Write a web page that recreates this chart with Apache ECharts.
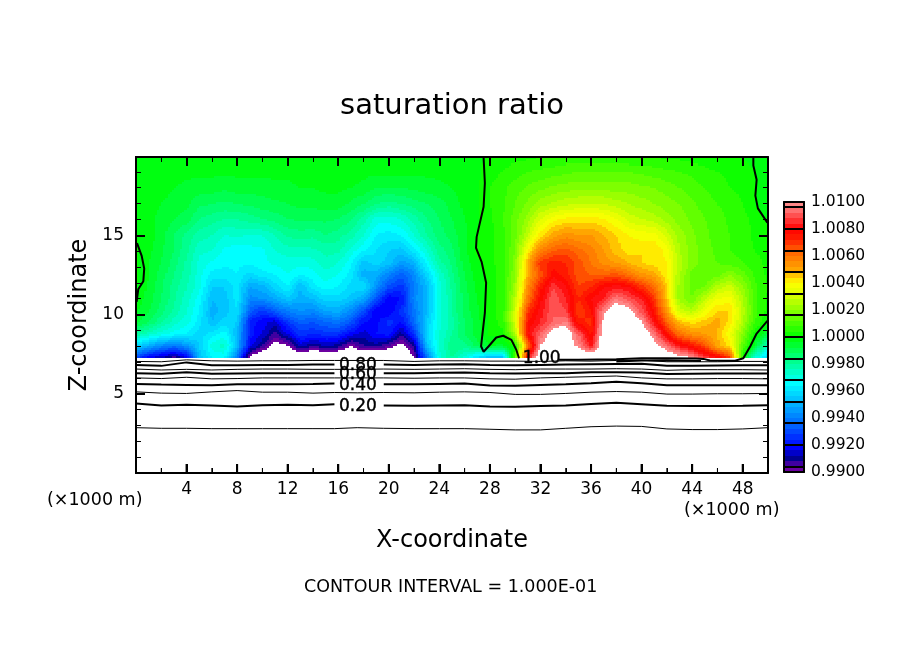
<!DOCTYPE html>
<html><head><meta charset="utf-8"><style>html,body{margin:0;padding:0;background:#fff}#c{width:904px;height:654px}</style>
<script src="https://cdn.jsdelivr.net/npm/echarts@6/dist/echarts.min.js"></script></head><body><div id="c"></div>
<script>
// Values. Field values are (saturation ratio - 1) x 10000, one array per z level, x = 0..50 km.
const zLevels = [7.25,8,8.75,9.5,10.25,11,11.75,12.5,13.25,14,15,16,17,18,19,19.94];
const z725 = [-70,-85,-88,-96,-85,-48,-36,-36,-60,-104, -112,-114,-114,-114,-114,-114,-114,-114,-114,-114, -114,-114,-100,-64,-30,-20,-30,-42,-50,-48, 12,82,110,115,115,115,115,115,115,115, 115,115,110,105,101,88,82,70,2,-30,-44];
const z800 = [-42,-50,-58,-62,-56,-44,-30,-26,-48,-82, -92,-104,-101,-86,-92,-88,-90,-100,-92,-90, -96,-104,-92,-46,-28,-16,-18,-10,-4,-5, 2,60,100,110,106,98,82,110,116,116, 112,104,94,82,76,66,50,42,12,-6,-26];
const z875 = [-20,-26,-30,-34,-36,-42,-38,-34,-48,-78, -84,-94,-84,-74,-76,-74,-74,-82,-86,-80, -78,-90,-74,-42,-28,-20,-12,-6,1,2, 25,80,92,106,108,92,74,108,114,114, 108,96,76,60,54,52,48,36,18,1,-8];
const z950 = [-6,-12,-19,-26,-30,-38,-48,-42,-44,-78, -82,-86,-72,-66,-68,-64,-62,-68,-80,-82, -74,-80,-64,-44,-30,-22,-12,-6,1,6, 30,76,84,92,97,74,70,104,112,110, 100,82,62,46,42,46,50,42,24,8,-1];
const z1025 = [-3,-8,-14,-21,-28,-36,-50,-46,-40,-66, -74,-66,-60,-56,-58,-52,-50,-58,-70,-84, -84,-74,-62,-48,-30,-20,-10,-5,2,6, 30,70,82,92,88,68,76,98,108,104, 90,76,52,30,26,36,44,44,26,10,2];
const z1100 = [-1,-6,-12,-19,-26,-34,-48,-46,-38,-58, -56,-52,-46,-50,-48,-42,-42,-46,-52,-68, -84,-80,-58,-48,-30,-20,-10,-4,2,6, 26,60,78,92,84,72,80,84,96,90, 84,70,46,22,16,28,36,38,24,9,3];
const z1175 = [0,-5,-11,-18,-24,-30,-44,-44,-38,-52, -50,-42,-36,-48,-38,-34,-36,-42,-40,-56, -70,-74,-60,-48,-30,-19,-9,-3,2,6, 22,56,74,88,80,68,72,80,82,80, 70,62,44,22,14,16,26,30,20,9,4];
const z1250 = [1,-4,-10,-16,-22,-30,-38,-38,-36,-42, -38,-36,-32,-36,-34,-30,-32,-38,-50,-50, -60,-66,-58,-42,-28,-17,-8,-2,2,6, 20,50,66,78,74,66,64,64,66,60, 54,50,40,24,14,12,14,20,14,7,3];
const z1325 = [1,-4,-8,-14,-21,-29,-33,-35,-35,-35, -33,-31,-30,-30,-30,-25,-28,-35,-46,-42, -46,-54,-50,-34,-22,-15,-6,-1,2,7, 18,50,70,74,72,66,60,54,52,48, 44,42,40,26,18,14,12,10,8,5,3];
const z1400 = [1,-3,-7,-12,-19,-27,-28,-33,-35,-34, -33,-28,-26,-26,-25,-23,-23,-30,-36,-40, -44,-46,-38,-28,-18,-13,-5,1,2,7, 16,40,58,64,66,62,58,52,46,42, 44,44,38,24,18,14,11,8,6,4,3];
const z1500 = [0,-2,-6,-12,-17,-22,-24,-28,-27,-28, -28,-24,-19,-18,-19,-16,-18,-22,-28,-36, -38,-36,-28,-20,-14,-10,-5,0,2,7, 14,28,42,50,54,52,52,48,44,40, 38,38,30,22,17,13,10,8,6,3,2];
const z1600 = [-1,-3,-5,-8,-10,-16,-18,-20,-20,-18, -16,-14,-12,-11,-11,-11,-12,-15,-22,-30, -30,-28,-22,-16,-12,-8,-4,-1,3,8, 14,22,32,38,41,42,42,40,36,30, 28,26,22,18,15,12,10,7,5,3,-1];
const z1700 = [-1,-3,-4,-5,-7,-11,-12,-13,-12,-11, -10,-9,-8,-7,-7,-6,-6,-9,-12,-16, -18,-16,-14,-12,-10,-6,-3,-1,4,7, 12,17,22,25,27,28,28,28,26,24, 22,20,18,16,13,10,8,6,4,0,-4];
const z1800 = [-1,-2,-3,-4,-5,-6,-6,-7,-6,-6, -6,-5,-5,-4,-4,-3,-3,-4,-5,-8, -8,-8,-7,-6,-5,-4,-2,-1,4,7, 10,13,15,17,18,19,19,19,18,18, 17,16,14,12,10,8,6,4,3,0,-3];
const z1900 = [-1,-1,-2,-2,-3,-3,-3,-3,-3,-3, -3,-3,-3,-2,-2,-2,-2,-2,-3,-3, -3,-3,-3,-3,-3,-2,-1,-1,2,4, 6,8,9,10,11,12,12,12,12,12, 11,10,9,8,7,5,4,3,1,0,-3];
const z1994 = [-1,-1,-1,-1,-1,-1,-1,-1,-1,-1, -1,-1,-1,-1,-1,-1,-1,-1,-1,-1, -1,-1,-1,-1,-1,-1,-1,-1,1,2, 3,3,4,4,5,5,5,5,5,4, 4,4,3,3,2,2,1,1,0,-1,-3];
const fieldRows = [z725,z800,z875,z950,z1025,z1100,z1175,z1250,z1325,z1400,z1500,z1600,z1700,z1800,z1900,z1994];

// Near-surface contour lines, z at each x of contourX (null = gap for the label)
const contourX = [0,2,4,6,8,10,12,14,15.7,17.5,19.6,22,24,26,28,30,32,34,36,38,40,42,44,46,48,50];
const c010 = [2.86,2.82,2.82,2.8,2.8,2.8,2.8,2.8,2.8,2.86,2.82,2.8,2.8,2.8,2.76,2.72,2.72,2.82,2.92,2.96,2.94,2.78,2.74,2.74,2.78,2.86];
const c020 = [4.38,4.26,4.3,4.26,4.2,4.28,4.3,4.28,4.34,null,4.26,4.24,4.26,4.28,4.2,4.18,4.22,4.26,4.36,4.44,4.34,4.24,4.22,4.22,4.24,4.28];
const c030 = [5.12,5.04,5.02,5.12,5.2,5.1,5.1,5.04,5.08,5.06,5.08,5.06,5.1,5.12,5.08,4.96,4.96,5.02,5.1,5.14,5.1,4.98,4.98,5.0,5.0,5.02];
const c040 = [5.62,5.58,5.56,5.54,5.6,5.6,5.6,5.62,5.64,null,5.6,5.6,5.62,5.64,5.52,5.5,5.56,5.6,5.66,5.76,5.66,5.54,5.54,5.54,5.54,5.54];
const c050 = [6.0,5.96,6.04,5.94,5.96,6.0,6.0,6.0,6.0,6.0,6.0,5.98,6.0,6.0,5.94,5.92,6.0,6.04,6.08,6.12,6.0,5.94,5.94,5.96,5.96,5.94];
const c060 = [6.3,6.26,6.36,6.26,6.28,6.3,6.3,6.3,6.3,null,6.3,6.3,6.32,6.34,6.3,6.28,6.3,6.3,6.36,6.36,6.34,6.24,6.26,6.28,6.28,6.28];
const c070 = [6.56,6.5,6.54,6.5,6.54,6.56,6.56,6.54,6.54,6.54,6.56,6.54,6.56,6.58,6.54,6.52,6.56,6.56,6.56,6.58,6.56,6.48,6.52,6.52,6.52,6.5];
const c080 = [6.82,6.76,6.98,6.8,6.8,6.82,6.82,6.84,6.84,null,6.84,6.82,6.84,6.86,6.82,6.8,6.82,6.84,6.86,6.88,6.9,6.76,6.76,6.78,6.8,6.8];
const c090 = [7.04,7.02,7.14,7.08,7.06,7.08,7.08,7.1,7.1,7.1,7.1,7.04,7.08,7.08,7.06,7.06,7.04,7.08,7.06,7.1,7.12,7.02,7.02,7.02,7.04,7.04];
// 1.00 contour pieces as [x km, z km]
const c100Left = [[0.08,14.5],[0.45,13.7],[0.65,12.9],[0.58,12.1],[0.18,11.6],[0.05,10.8]];
const c100Mid = [[27.5,19.9],[27.6,18.3],[27.5,16.8],[26.95,14.9],[26.9,14.2],[27.35,13.3],[27.7,12.0],[27.6,10.1],[27.3,8.0],[27.5,7.65],[27.9,8.0],[28.5,8.55],[29.05,8.66],[29.7,8.4],[30.1,7.75],[30.3,7.24]];
const c100TopRight = [[48.84,19.9],[48.84,19.4],[49.1,18.5],[49.0,17.5],[49.2,16.7],[49.95,15.8]];
const c100BottomRight = [[49.95,9.6],[49.1,8.8],[48.6,8.0],[48.05,7.24],[47.4,7.08],[45.4,7.1],[44.9,7.2],[44.3,7.22],[42,7.24],[40,7.24],[38,7.18],[35,7.14],[33.4,7.14]];
const c100Lower = [[38,7.04],[40,7.1],[42,7.12],[44.7,7.06]];
// Contour labels
const labelText = ['0.20','0.40','0.60','0.80','1.00'];
const labelX = [17.56,17.56,17.56,17.56,32.1];
const labelZ = [4.2,5.52,6.21,6.75,7.2];
// Bottom axis tick positions (km)
const bottomMajor = [4,8,12,16,20,24,28,32,36,40,44,48];
const bottomMinor = [2,6,10,14,18,22,26,30,34,38,42,46,50];
// Colour-bar labels and levels
const barMin = 0.99, barMax = 1.01, barStep = 0.002, bandStep = 0.0004;
// Tick text
const titleText = 'saturation ratio', xName = 'X-coordinate', yName = 'Z-coordinate', footer = 'CONTOUR INTERVAL = 1.000E-01', unit = '(\u00d71000 m)';

const anchorV = [-100,-94,-90,-82,-66,-50,-34,-16,0,16,32,40,48,64,72,80,96,100];
const anchorC = ['#8000a0','#4000a0','#000090','#0000ff','#0060ff','#00b0ff','#00ffff','#00ff80','#00ff00','#70ff00','#e0ff00','#ffff00','#ffb000','#ff6000','#ff2000','#ff0000','#ff8080','#ff9090'];
function hex(c){return [1,3,5].map(i=>parseInt(c.substr(i,2),16));}
function colorAt(v){
  let k=0; while(k<anchorV.length-2&&v>anchorV[k+1])k++;
  const t=(v-anchorV[k])/(anchorV[k+1]-anchorV[k]),a=hex(anchorC[k]),b=hex(anchorC[k+1]);
  return 'rgb('+a.map((q,i)=>Math.round(q+(b[i]-q)*t)).join(',')+')';
}
const palette=[];for(let k=0;k<50;k++)palette.push(colorAt(-100+4*k+2));
function bandOf(v){ if(v<-100||v>=100) return -1; return Math.floor((v+100)/4); }

const cells=[];
for(let j=0;j<zLevels.length-1;j++)for(let i=0;i<50;i++){
  cells.push([i,i+1,zLevels[j],zLevels[j+1],fieldRows[j][i],fieldRows[j][i+1],fieldRows[j+1][i],fieldRows[j+1][i+1]]);
}
function renderCell(params,api){
  const p0=api.coord([api.value(0),api.value(2)]),p1=api.coord([api.value(1),api.value(3)]);
  const v00=api.value(4),v10=api.value(5),v01=api.value(6),v11=api.value(7);
  const w=p1[0]-p0[0],h=p0[1]-p1[1],nx=Math.max(1,Math.round(w/2)),ny=Math.max(1,Math.round(h/2));
  const children=[];
  for(let b=0;b<ny;b++){
    const t=(b+.5)/ny,yA=Math.round(p0[1]-h*b/ny),yB=Math.round(p0[1]-h*(b+1)/ny);
    let run=-2,start=0;
    for(let a=0;a<=nx;a++){
      let band=-3;
      if(a<nx){const s=(a+.5)/nx;band=bandOf((v00*(1-s)+v10*s)*(1-t)+(v01*(1-s)+v11*s)*t);}
      if(band!==run){
        if(run>=0){const xA=Math.round(p0[0]+w*start/nx),xB=Math.round(p0[0]+w*a/nx);
          children.push({type:'rect',shape:{x:xA,y:yB,width:xB-xA,height:yA-yB},style:{fill:palette[run]},silent:true});}
        run=band;start=a;
      }
    }
  }
  return {type:'group',children};
}
function renderBand(params,api){
  const v=api.value(0),p0=api.coord([0,v]),p1=api.coord([1,v+bandStep]);
  const yA=Math.round(p0[1]),yB=Math.round(p1[1]);
  const kids=[{type:'rect',shape:{x:p0[0],y:yB,width:p1[0]-p0[0],height:yA-yB},style:{fill:palette[params.dataIndex]}}];
  if(params.dataIndex%4===1) kids.push({type:'line',shape:{x1:p0[0],y1:yA,x2:p1[0],y2:yA},style:{stroke:'#000',lineWidth:2}});
  return {type:'group',children:kids};
}
function renderBottomTick(params,api){
  const p=api.coord([api.value(0),0]),major=api.value(1)===1;
  return {type:'line',shape:{x1:p[0],y1:p[1],x2:p[0],y2:p[1]-(major?9:5)},style:{stroke:'#000',lineWidth:major?2:1}};
}
const bandData=palette.map((_,k)=>[barMin+bandStep*k]);
function lineS(data,w){return {type:'line',data,xAxisIndex:0,yAxisIndex:0,showSymbol:false,symbol:'none',connectNulls:false,lineStyle:{color:'#000',width:w},z:3,silent:true,animation:false};}
const level=(arr)=>arr.map((z,i)=>[contourX[i],z]);
const contourSeries=[[c010,1],[c020,2],[c030,1],[c040,2],[c050,1],[c060,2],[c070,1],[c080,2],[c090,1]].map(([a,w])=>lineS(level(a),w));
const font='"DejaVu Sans"';
const txt=(text,x,y,size)=>({type:'text',left:x,top:y,silent:true,style:{text,font:size+'px '+font,fill:'#000'}});
const frameAxis=(split,extra)=>Object.assign({type:'value',gridIndex:0,min:0,z:6,axisLine:{onZero:false,lineStyle:{color:'#000',width:2}},
  axisTick:{show:true,inside:true,length:9,lineStyle:{color:'#000',width:2}},minorTick:{show:true,splitNumber:split,length:5,lineStyle:{color:'#000',width:1}},splitLine:{show:false},axisLabel:{show:false}},extra);
const barAxis=(extra)=>Object.assign({type:'value',gridIndex:1,z:6,axisLine:{onZero:false,lineStyle:{color:'#000',width:2}},axisTick:{show:false},splitLine:{show:false},axisLabel:{show:false}},extra);

const chart=echarts.init(document.getElementById('c'),null,{renderer:'canvas'});
chart.setOption({
  animation:false,backgroundColor:'#fff',
  title:{text:titleText,left:447,top:87,textAlign:'center',textStyle:{fontFamily:font,fontSize:29,fontWeight:'normal',color:'#000'}},
  grid:[{left:136,top:157,width:632,height:316,show:false},
        {left:784,top:202,width:20,height:270,show:false}],
  xAxis:[
    frameAxis(2,{max:50,interval:4,position:'bottom',name:xName,nameLocation:'middle',nameGap:56,nameTextStyle:{fontFamily:font,fontSize:24,color:'#000'},
     axisLabel:{show:true,fontFamily:font,fontSize:17,color:'#000',margin:8,showMaxLabel:false,formatter:v=>(v>0&&v%4===0)?String(v):''}}),
    frameAxis(2,{max:50,interval:4,position:'top'}),
    barAxis({min:0,max:1,position:'bottom'}),
    barAxis({min:0,max:1,position:'top'})
  ],
  yAxis:[
    frameAxis(5,{max:19.94,interval:5,position:'left',name:yName,nameLocation:'middle',nameGap:38,nameRotate:90,nameTextStyle:{fontFamily:font,fontSize:24,color:'#000'},
     axisLabel:{show:true,fontFamily:font,fontSize:17,color:'#000',margin:12,formatter:v=>(v>0&&v%5===0)?String(v):''}}),
    frameAxis(5,{max:19.94,interval:5,position:'right'}),
    barAxis({min:barMin,max:barMax,interval:barStep,position:'left'}),
    barAxis({min:barMin,max:barMax,interval:barStep,position:'right',axisLabel:{show:true,fontFamily:font,fontSize:15.5,color:'#000',margin:7,formatter:v=>v.toFixed(4)}}),
    frameAxis(5,{max:19.94,interval:5,position:'left'})
  ],
  series:[
    {type:'custom',xAxisIndex:0,yAxisIndex:0,data:cells,renderItem:renderCell,encode:{x:[0,1],y:[2,3]},silent:true,z:1,clip:true,animation:false,progressive:0},
    ...contourSeries,
    lineS(c100Left,2),lineS(c100Mid,2),lineS(c100TopRight,2),lineS(c100BottomRight,2),lineS(c100Lower,2),
    {type:'scatter',xAxisIndex:0,yAxisIndex:0,symbolSize:0,z:5,silent:true,animation:false,data:labelText.map((t,i)=>({value:[labelX[i],labelZ[i]],name:t})),
     label:{show:true,position:'inside',formatter:p=>p.name,fontFamily:font,fontSize:17,color:'#000',opacity:1,textBorderColor:'#000',textBorderWidth:0.4}},
    {type:'custom',xAxisIndex:2,yAxisIndex:3,data:bandData,renderItem:renderBand,encode:{y:0},silent:true,z:2,animation:false},
    {type:'custom',xAxisIndex:0,yAxisIndex:0,clip:false,silent:true,z:7,animation:false,renderItem:renderBottomTick,encode:{x:0},
     data:bottomMajor.map(v=>[v,1]).concat(bottomMinor.map(v=>[v,0]))}
  ],
  graphic:[
    txt(unit,47,491,17.5),
    txt(unit,684,501,17.5),
    txt(footer,304,578,17.5)
  ]
});
</script></body></html>
